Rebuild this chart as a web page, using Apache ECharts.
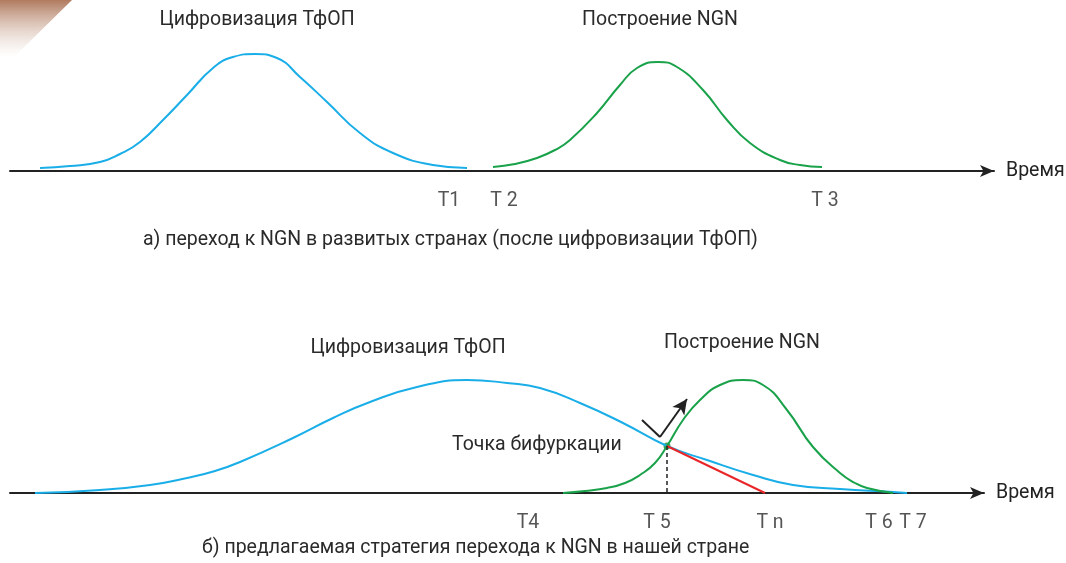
<!DOCTYPE html>
<html>
<head>
<meta charset="utf-8">
<script src="https://cdn.jsdelivr.net/npm/echarts@6/dist/echarts.min.js"></script>
<style>
  html, body { margin: 0; padding: 0; background: #fff; }
  #chart { width: 1066px; height: 563px; }
</style>
</head>
<body>
<div id="chart"></div>
<script>
// кривые: [время, уровень над осью]
const digitTop = [[40,3],[70,5],[100,9],[120,17],[140,29],[163,51],[187,76],[213,103],[233,114],[255,117],[277,113],[300,94],[327,69],[360,38],[393,18],[433,6],[467,3]];
const ngnTop = [[493,4],[515,7],[537,13],[555,21],[570,31],[597,58],[620,86],[637,103],[658,109],[677,104],[703,81],[727,51],[750,28],[780,11],[800,6],[822,4]];
const digitBot = [[35,0],[100,3],[150,8],[187,15],[215,22],[240,31],[293,55],[333,75],[370,91],[417,106],[467,113],[507,110],[540,105],[580,90],[623,70],[667,47],[707,33],[753,18],[793,8],[840,4],[893,1],[907,0]];
const ngnBot = [[563,0],[585,2],[607,5],[625,10],[640,18],[655,30],[667,47],[683,73],[700,93],[720,108],[743,113],[763,108],[787,83],[813,46],[840,20],[855,10],[867,5],[893,0]];
const redLine = [[667,47],[765,0]];
const bifurcation = [667,47];
const checkMark = [[642,73],[660,56]];
const checkArrow = [[660,56],[687,94]];

const topTicks = ['T1','T 2','T 3'];
const topTickPos = [449,504,825];
const botTicks = ['T4','T 5','T n','T 6','T 7'];
const botTickPos = [528,657,770,879,913];

const FONT = 'Roboto';
const FS = 19.5;
const TXT = '#2a2a2a';

const chart = echarts.init(document.getElementById('chart'));

function tickData(names, pos) {
  var res = [];
  for (var i = 0; i < names.length; i++) {
    res.push({ value: [pos[i], -30], name: names[i] });
  }
  return res;
}

function xAx(idx, max) {
  return {
    type: 'value', gridIndex: idx, min: 10, max: max,
    axisLine: { show: true, symbol: ['none', 'arrow'], symbolSize: [9, 14],
      lineStyle: { color: '#222', width: 2 } },
    axisTick: { show: false }, axisLabel: { show: false }, splitLine: { show: false },
    name: 'Время', nameLocation: 'end', nameGap: 12,
    nameTextStyle: { fontFamily: FONT, fontSize: FS, color: '#222', align: 'left', verticalAlign: 'middle' }
  };
}

function yAx(idx) {
  return { type: 'value', gridIndex: idx, min: 0, max: 130, show: false };
}

function txt(x, y, s, align) {
  return { type: 'text', x: x, y: y, style: { text: s, fontFamily: FONT, fontSize: FS, fill: TXT,
    align: align || 'center', verticalAlign: 'middle' } };
}

function curve(data, color, xi) {
  return { type: 'line', xAxisIndex: xi, yAxisIndex: xi, data: data, smooth: 0.5,
    showSymbol: false, lineStyle: { color: color, width: 2 } };
}

chart.setOption({
  animation: false,
  grid: [
    { left: 10, right: 72, top: 41, height: 130 },
    { left: 10, right: 82, top: 363, height: 130 }
  ],
  xAxis: [xAx(0, 994), xAx(1, 984)],
  yAxis: [yAx(0), yAx(1)],
  graphic: [
    { type: 'polygon', shape: { points: [[0,0],[72,0],[14,57],[0,57]] },
      style: { fill: new echarts.graphic.LinearGradient(0, 0, 0, 1, [
        { offset: 0, color: '#b07a5e' }, { offset: 1, color: 'rgba(255,255,255,0.4)' }]) } },
    txt(257, 20, 'Цифровизация ТфОП'),
    txt(660, 20, 'Построение NGN'),
    txt(143, 240, 'а) переход к NGN в развитых странах (после цифровизации ТфОП)', 'left'),
    txt(408, 348, 'Цифровизация ТфОП'),
    txt(742, 343, 'Построение NGN'),
    txt(452, 445, 'Точка бифуркации', 'left'),
    txt(202, 548, 'б) предлагаемая стратегия перехода к NGN в нашей стране', 'left')
  ],
  series: [
    curve(digitTop, '#1aaee8', 0),
    curve(ngnTop, '#19a24a', 0),
    { type: 'scatter', xAxisIndex: 0, yAxisIndex: 0, data: tickData(topTicks, topTickPos), symbolSize: 0, clip: false,
      label: { show: true, position: 'inside', formatter: '{b}', fontFamily: FONT, fontSize: FS, color: TXT } },

    curve(digitBot, '#1aaee8', 1),
    curve(ngnBot, '#19a24a', 1),
    { type: 'line', xAxisIndex: 1, yAxisIndex: 1, data: redLine, showSymbol: false,
      lineStyle: { color: '#e8262a', width: 2 },
      markLine: { silent: true, symbol: ['none', 'none'], label: { show: false },
        lineStyle: { color: '#222', type: [4, 3], width: 1.5 },
        data: [[{ coord: bifurcation }, { coord: [bifurcation[0], 0] }]] } },
    { type: 'line', xAxisIndex: 1, yAxisIndex: 1, data: checkMark, showSymbol: false,
      lineStyle: { color: '#222', width: 2 },
      markLine: { silent: true, symbol: ['none', 'arrow'], symbolSize: [11, 15], label: { show: false },
        lineStyle: { color: '#222', type: 'solid', width: 2 },
        data: [[{ coord: checkArrow[0] }, { coord: checkArrow[1] }]] } },
    { type: 'scatter', xAxisIndex: 1, yAxisIndex: 1, data: [bifurcation], symbolSize: 7,
      itemStyle: { color: '#138a3c' } },
    { type: 'scatter', xAxisIndex: 1, yAxisIndex: 1, data: tickData(botTicks, botTickPos), symbolSize: 0, clip: false,
      label: { show: true, position: 'inside', formatter: '{b}', fontFamily: FONT, fontSize: FS, color: TXT } }
  ]
});
</script>
</body>
</html>
